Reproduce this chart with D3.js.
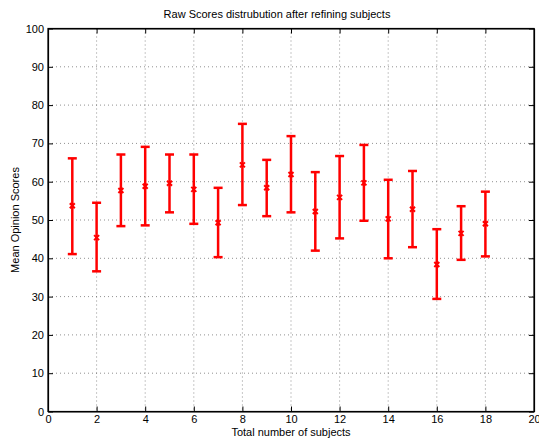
<!DOCTYPE html>
<html>
<head>
<meta charset="utf-8">
<script src="https://cdn.jsdelivr.net/npm/d3@7"></script>
<style>
  body { margin: 0; background: #fff; }
  svg { display: block; font-family: "Liberation Sans", Arial, sans-serif; }
</style>
</head>
<body>
<script>
var width = 539;
var height = 438;

// data
var subjects = [1, 2, 3, 4, 5, 6, 7, 8, 9, 10, 11, 12, 13, 14, 15, 16, 17, 18];
var means = [53.7, 45.4, 57.7, 58.8, 59.6, 58.0, 49.3, 64.4, 58.4, 61.9, 52.2, 55.9, 59.7, 50.3, 52.8, 38.4, 46.5, 49.0];
var upper = [66.1, 54.5, 67.1, 69.1, 67.1, 67.1, 58.4, 75.1, 65.7, 71.9, 62.5, 66.7, 69.6, 60.5, 62.8, 47.6, 53.6, 57.4];
var lower = [41.1, 36.6, 48.4, 48.6, 52.0, 49.0, 40.3, 53.9, 51.0, 52.0, 42.0, 45.2, 49.8, 40.0, 42.9, 29.4, 39.6, 40.5];
var xTicks = [0, 2, 4, 6, 8, 10, 12, 14, 16, 18, 20];
var yTicks = [0, 10, 20, 30, 40, 50, 60, 70, 80, 90, 100];

var margin = { left: 48, top: 28.5, right: 5, bottom: 26.5 };
var plotW = width - margin.left - margin.right;
var plotH = height - margin.top - margin.bottom;

var svg = d3.select("body").append("svg")
    .attr("width", width)
    .attr("height", height);

var x = d3.scaleLinear().domain([0, 20]).range([0, plotW]);
var y = d3.scaleLinear().domain([0, 100]).range([plotH, 0]);

var g = svg.append("g")
    .attr("transform", "translate(" + margin.left + "," + margin.top + ")");

// grid
g.append("g").selectAll("line").data(xTicks.slice(1, -1)).enter().append("line")
    .attr("x1", d => x(d)).attr("x2", d => x(d))
    .attr("y1", 0).attr("y2", plotH)
    .attr("stroke", "#444").attr("stroke-width", 0.6)
    .attr("stroke-dasharray", "1,3");
g.append("g").selectAll("line").data(yTicks.slice(1, -1)).enter().append("line")
    .attr("y1", d => y(d)).attr("y2", d => y(d))
    .attr("x1", 0).attr("x2", plotW)
    .attr("stroke", "#444").attr("stroke-width", 0.6)
    .attr("stroke-dasharray", "1,3");

// axes (ticks inward, on all four sides)
g.append("g")
    .attr("transform", "translate(0," + plotH + ")")
    .call(d3.axisBottom(x).tickValues(xTicks).tickSizeInner(-5).tickSizeOuter(0).tickPadding(4));
g.append("g")
    .call(d3.axisLeft(y).tickValues(yTicks).tickSizeInner(-5).tickSizeOuter(0).tickPadding(4));
g.append("g")
    .call(d3.axisTop(x).tickValues(xTicks).tickSizeInner(-5).tickSizeOuter(0).tickFormat(""));
g.append("g")
    .attr("transform", "translate(" + plotW + ",0)")
    .call(d3.axisRight(y).tickValues(yTicks).tickSizeInner(-5).tickSizeOuter(0).tickFormat(""));

svg.selectAll(".domain").attr("stroke", "#000").attr("stroke-width", 1.2);
svg.selectAll(".tick line").attr("stroke", "#000");
svg.selectAll(".tick text").attr("font-size", "11px").attr("fill", "#000")
    .attr("font-family", "Liberation Sans, Arial, sans-serif");

g.append("rect")
    .attr("width", plotW).attr("height", plotH)
    .attr("fill", "none").attr("stroke", "#000").attr("stroke-width", 1.2);

// error bars
var bars = g.append("g").selectAll("g").data(subjects).enter().append("g");
bars.append("line")
    .attr("x1", d => x(d)).attr("x2", d => x(d))
    .attr("y1", (d, i) => y(lower[i])).attr("y2", (d, i) => y(upper[i]))
    .attr("stroke", "#ff0000").attr("stroke-width", 2.5);
bars.append("line")
    .attr("x1", d => x(d) - 4.5).attr("x2", d => x(d) + 4.5)
    .attr("y1", (d, i) => y(upper[i])).attr("y2", (d, i) => y(upper[i]))
    .attr("stroke", "#ff0000").attr("stroke-width", 2.5);
bars.append("line")
    .attr("x1", d => x(d) - 4.5).attr("x2", d => x(d) + 4.5)
    .attr("y1", (d, i) => y(lower[i])).attr("y2", (d, i) => y(lower[i]))
    .attr("stroke", "#ff0000").attr("stroke-width", 2.5);
bars.append("path")
    .attr("d", (d, i) => {
        var cx = x(d), cy = y(means[i]), s = 2.5;
        return "M" + (cx - s) + "," + (cy - s) + "L" + (cx + s) + "," + (cy + s) +
            "M" + (cx - s) + "," + (cy + s) + "L" + (cx + s) + "," + (cy - s);
    })
    .attr("stroke", "#ff0000").attr("stroke-width", 2);

// labels
svg.append("text")
    .attr("x", 277).attr("y", 18)
    .attr("text-anchor", "middle").attr("font-size", "11px")
    .text("Raw Scores distrubution after refining subjects");
svg.append("text")
    .attr("x", margin.left + plotW / 2).attr("y", 436)
    .attr("text-anchor", "middle").attr("font-size", "11px")
    .text("Total number of subjects");
svg.append("text")
    .attr("transform", "translate(19," + (margin.top + plotH / 2) + ") rotate(-90)")
    .attr("text-anchor", "middle").attr("font-size", "11px")
    .text("Mean Opinion Scores");
</script>
</body>
</html>
